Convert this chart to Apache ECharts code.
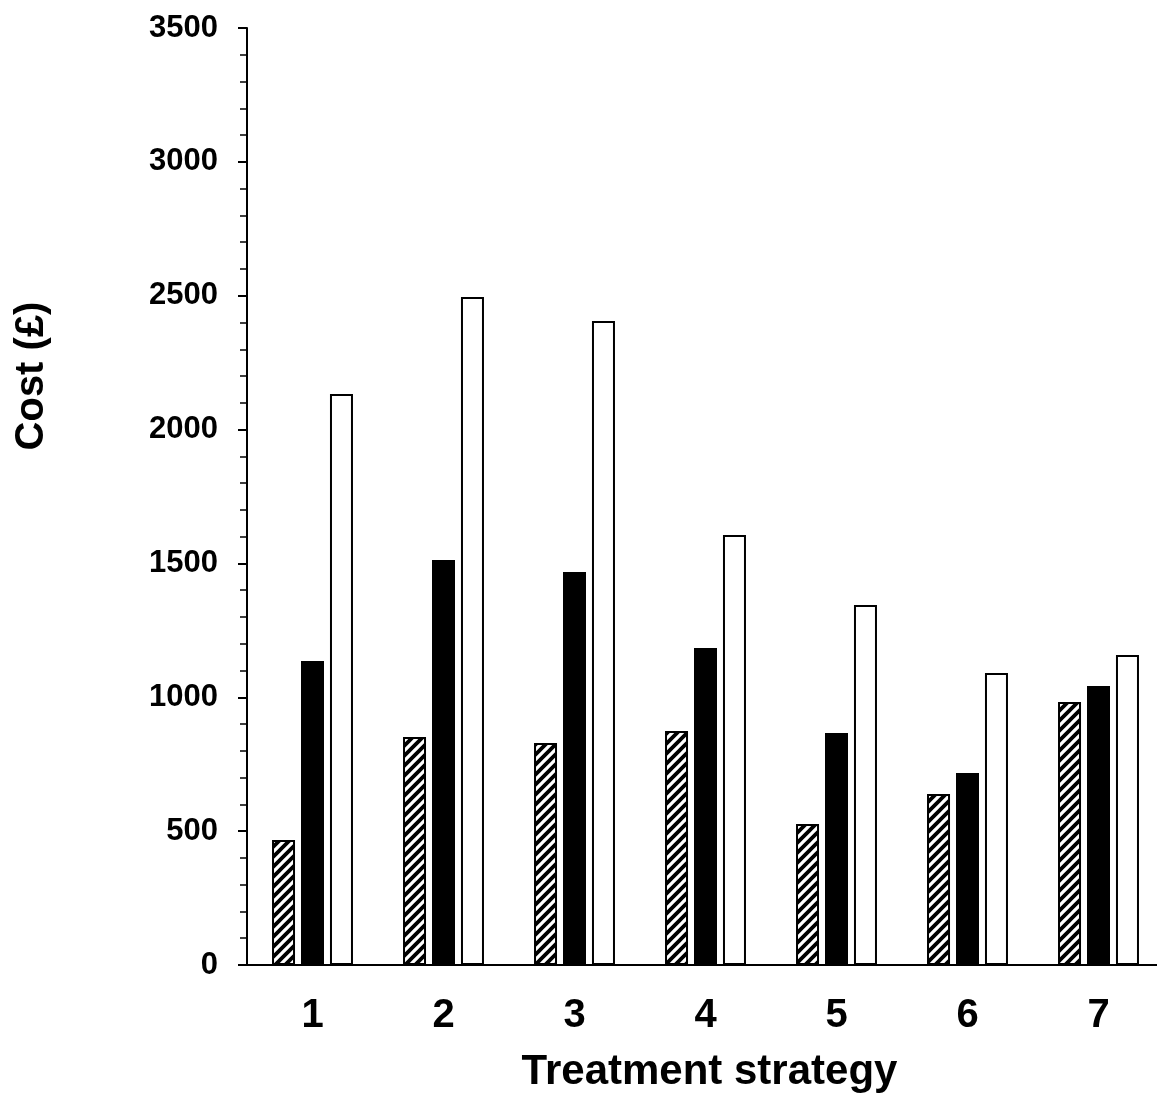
<!DOCTYPE html>
<html>
<head>
<meta charset="utf-8">
<script src="https://cdn.jsdelivr.net/npm/echarts@6/dist/echarts.min.js"></script>
<style>
  html, body { margin: 0; padding: 0; background: #fff; }
  #chart { width: 1157px; height: 1097px; }
</style>
</head>
<body>
<div id="chart"></div>
<script>
const categories = ['1', '2', '3', '4', '5', '6', '7'];
const hatchedValues = [467, 852, 829, 874, 527, 639, 982];
const blackValues = [1136, 1513, 1468, 1184, 867, 717, 1042];
const whiteValues = [2133, 2495, 2406, 1606, 1345, 1091, 1158];
const yTicks = [0, 500, 1000, 1500, 2000, 2500, 3000, 3500];

const font = '"Liberation Sans", Arial, sans-serif';

// diagonal stripe pattern for the first series
const makeHatch = () => {
  const c = document.createElement('canvas');
  c.width = 10;
  c.height = 10;
  const ctx = c.getContext('2d');
  ctx.fillStyle = '#fff';
  ctx.fillRect(0, 0, 10, 10);
  ctx.strokeStyle = '#000';
  ctx.lineWidth = 3.8;
  ctx.beginPath();
  ctx.moveTo(-5, 15); ctx.lineTo(15, -5);
  ctx.moveTo(-15, 15); ctx.lineTo(5, -5);
  ctx.moveTo(5, 15); ctx.lineTo(25, -5);
  ctx.stroke();
  return c;
};

const chart = echarts.init(document.getElementById('chart'));
const barCommon = { type: 'bar', barWidth: 23, barGap: '26%', animation: false };

chart.setOption({
  backgroundColor: '#fff',
  grid: { left: 247, top: 28, width: 917, height: 937, outerBoundsMode: 'none' },
  xAxis: {
    type: 'category',
    data: categories,
    axisLine: { lineStyle: { color: '#000', width: 2 } },
    axisTick: { show: false },
    axisLabel: { color: '#000', fontFamily: font, fontWeight: 'bold', fontSize: 40, margin: 31 },
    name: 'Treatment strategy',
    nameLocation: 'middle',
    nameGap: 86,
    nameTextStyle: { color: '#000', fontFamily: font, fontWeight: 'bold', fontSize: 42, padding: [0, 0, 0, 8] }
  },
  yAxis: {
    type: 'value',
    min: yTicks[0],
    max: yTicks[yTicks.length - 1],
    interval: 500,
    splitLine: { show: false },
    axisLine: { show: true, lineStyle: { color: '#000', width: 2 } },
    axisTick: { show: true, length: 9, lineStyle: { color: '#000', width: 2 } },
    minorTick: { show: true, splitNumber: 5, length: 7, lineStyle: { color: '#000', width: 1.5 } },
    axisLabel: {
      color: '#000', fontFamily: font, fontWeight: 'bold', fontSize: 31, margin: 29,
      formatter: (v) => String(v)
    }
  },
  graphic: [{
    type: 'text',
    x: 32,
    y: 376,
    rotation: Math.PI / 2,
    style: {
      text: 'Cost (£)',
      fill: '#000',
      font: 'bold 40px ' + font,
      align: 'center',
      verticalAlign: 'middle'
    }
  }],
  series: [
    Object.assign({}, barCommon, {
      data: hatchedValues,
      itemStyle: { color: { image: makeHatch(), repeat: 'repeat' }, borderColor: '#000', borderWidth: 2 }
    }),
    Object.assign({}, barCommon, {
      data: blackValues,
      itemStyle: { color: '#000', borderColor: '#000', borderWidth: 2 }
    }),
    Object.assign({}, barCommon, {
      data: whiteValues,
      itemStyle: { color: '#fff', borderColor: '#000', borderWidth: 2 }
    })
  ]
});
</script>
</body>
</html>
